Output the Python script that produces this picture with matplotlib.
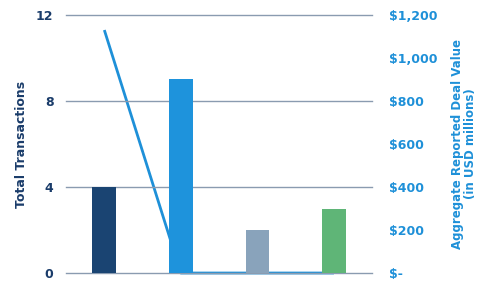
import numpy as np
import matplotlib.pyplot as plt

# data
categories = ['A', 'B', 'C', 'D']
transactions = [4, 9, 2, 3]
deal_value = [1130, 0, 0, 0]
bar_colors = ['#1a4472', '#1e93dc', '#89a3bb', '#5fb577']

navy = '#1a3c6a'
blue = '#1e90d8'
grid_col = '#8a9bb0'


def main():
    fig = plt.figure(figsize=(4.93, 2.88), dpi=100)
    ax = fig.add_axes([0.134, 0.052, 0.621, 0.896])
    ax2 = ax.twinx()

    x = np.arange(len(categories))

    # line sits behind the bars
    ax.set_zorder(ax2.get_zorder() + 1)
    ax.patch.set_visible(False)
    ax2.plot(x, deal_value, color=blue, linewidth=2, solid_capstyle='butt', clip_on=False)

    ax.bar(x, transactions, width=0.31, color=bar_colors, zorder=3)

    ax.set_xlim(-0.5, 3.5)
    ax.set_ylim(0, 12)
    ax.set_yticks([0, 4, 8, 12])
    ax.yaxis.grid(True, color=grid_col, linewidth=1)
    for gl in ax.get_ygridlines():
        gl.set_clip_on(False)
    ax.set_axisbelow(True)
    ax.set_xticks([])
    ax2.set_ylim(0, 1200)
    ax2.set_yticks(range(0, 1201, 200))
    ax2.set_yticklabels(['$-'] + ['${:,}'.format(v) for v in range(200, 1201, 200)])

    for a in (ax, ax2):
        for s in a.spines.values():
            s.set_visible(False)
        a.tick_params(length=0)

    ax.tick_params(axis='y', pad=9, labelsize=9, labelcolor=navy)
    for t in ax.get_yticklabels():
        t.set_fontweight('bold')
    ax2.tick_params(axis='y', pad=12, labelsize=9, labelcolor=blue)
    for t in ax2.get_yticklabels():
        t.set_fontweight('bold')

    ax.set_ylabel('Total Transactions', color=navy, fontsize=9, fontweight='bold', labelpad=6)
    ax2.set_ylabel('Aggregate Reported Deal Value\n(in USD millions)', color=blue,
                   fontsize=8.5, fontweight='bold', labelpad=10, linespacing=1.0)

    fig.savefig('out.png', dpi=100)


if __name__ == "__main__":
    main()
